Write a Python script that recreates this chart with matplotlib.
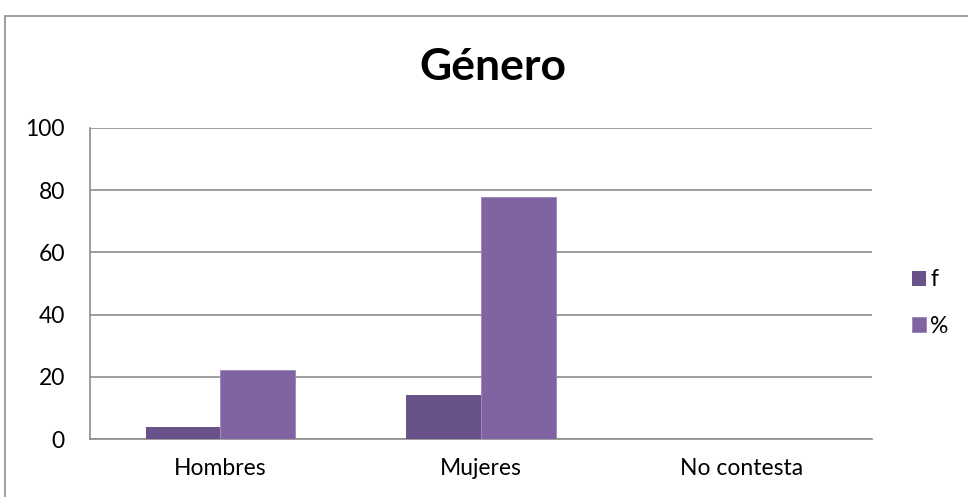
import numpy as np
import matplotlib.pyplot as plt
from matplotlib.patches import Rectangle

plt.rcParams['font.family'] = ['Lato', 'DejaVu Sans']

categories = ['Hombres', 'Mujeres', 'No contesta']
f_values = [4, 14, 0]
pct_values = [22.2, 77.8, 0]
yticks = [0, 20, 40, 60, 80, 100]

fig = plt.figure(figsize=(9.68, 4.97), dpi=100)
# outer chart frame, cut off at the right and bottom edges
fig.patches.append(Rectangle((5 / 968, -0.1), 1.2, (497 - 16) / 497 + 0.1,
                             transform=fig.transFigure, fill=False,
                             edgecolor='#8c8c8c', linewidth=1.2))

ax = fig.add_axes([90 / 968, 58 / 497, 782 / 968, 311 / 497])
x = np.arange(len(categories))
w = 0.287
ax.bar(x - w / 2, f_values, w, color='#69528A', label='f', zorder=3)
ax.bar(x + w / 2, pct_values, w, color='#8064A2', label='%', zorder=3,
       edgecolor='#9a84b8', linewidth=0.6)

ax.set_xlim(-0.5, 2.5)
ax.set_ylim(0, 100)
ax.set_yticks(yticks)
ax.set_xticks(x)
ax.set_xticklabels(categories)
ax.tick_params(axis='both', length=0, labelsize=16.5)
ax.tick_params(axis='x', pad=14)
ax.tick_params(axis='y', pad=18)
ax.yaxis.grid(True, color='#8c8c8c', linewidth=1.2, zorder=0)
for side in ['top', 'right']:
    ax.spines[side].set_visible(False)
for side in ['left', 'bottom']:
    ax.spines[side].set_color('#8c8c8c')
    ax.spines[side].set_linewidth(1.2)

fig.text(493 / 968, 1 - 67 / 497, 'Género', ha='center', va='center',
         fontsize=32, fontweight='bold')

ax.legend(loc='center left', bbox_to_anchor=(912 / 968, (497 - 303) / 497),
          bbox_transform=fig.transFigure, frameon=False, fontsize=16.5,
          handlelength=0.6, handleheight=0.6, handletextpad=0.2,
          labelspacing=1.1, borderaxespad=0, borderpad=0)

fig.savefig('out.png', dpi=100)
